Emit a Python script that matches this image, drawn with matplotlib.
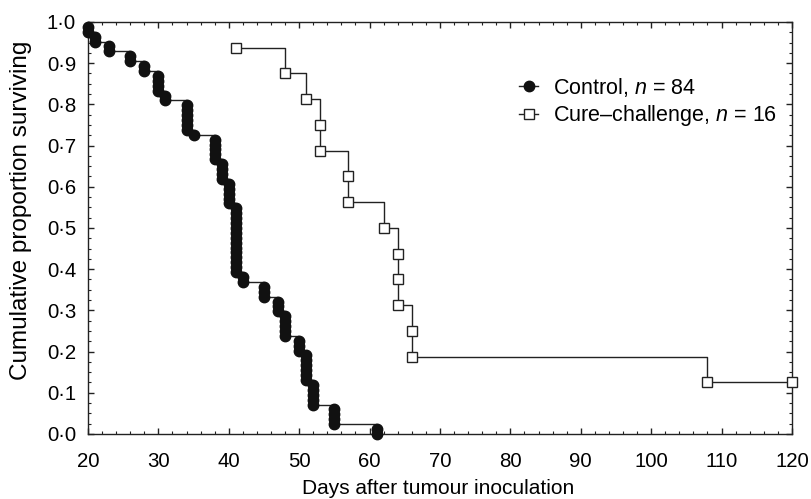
import matplotlib
matplotlib.use('Agg')
import matplotlib.pyplot as plt
from matplotlib.ticker import MultipleLocator, FuncFormatter

# Kaplan-Meier data: day of death and number of deaths that day
control_days = [20, 21, 23, 26, 28, 30, 31, 34, 35, 38, 39, 40, 41, 42, 45, 47, 48, 50, 51, 52, 55, 61]
control_deaths = [2, 2, 2, 2, 2, 4, 2, 6, 1, 5, 4, 5, 14, 2, 3, 3, 5, 3, 6, 5, 4, 2]
control_n = 84

cure_days = [41, 48, 51, 53, 57, 62, 64, 66, 108]
cure_deaths = [1, 1, 1, 2, 2, 1, 3, 2, 1]
cure_n = 16
cure_censor_day = 120  # two survivors still alive at end

plt.rcParams['font.family'] = ['Liberation Sans', 'DejaVu Sans']
plt.rcParams['mathtext.fontset'] = 'custom'
plt.rcParams['mathtext.rm'] = 'Liberation Sans'
plt.rcParams['mathtext.it'] = 'Liberation Sans:italic'


def km_points(days, deaths, n):
    # one point per death, survival after each death
    xs, ys = [], []
    at_risk = n
    surv = 1.0
    for d, k in zip(days, deaths):
        for _ in range(k):
            surv *= (at_risk - 1) / at_risk
            at_risk -= 1
            xs.append(d)
            ys.append(surv)
    return xs, ys


cx, cy = km_points(control_days, control_deaths, control_n)
qx, qy = km_points(cure_days, cure_deaths, cure_n)
qx.append(cure_censor_day)
qy.append(qy[-1])

fig = plt.figure(figsize=(8.11, 4.99), dpi=100)
ax = fig.add_axes([0.1085, 0.1303, 0.868, 0.8257])

ax.plot(cx, cy, drawstyle='steps-post', color='#222222', lw=1.0,
        marker='o', ms=7.5, mfc='#111111', mec='#111111',
        label=r'Control, $n$ = 84', clip_on=False, zorder=3)
ax.plot(qx, qy, drawstyle='steps-post', color='#222222', lw=1.0,
        marker='s', ms=7.5, mfc='white', mec='#222222', mew=1.0,
        label=r'Cure–challenge, $n$ = 16', clip_on=False, zorder=3)

ax.set_xlim(20, 120)
ax.set_ylim(0, 1.0)
ax.xaxis.set_major_locator(MultipleLocator(10))
ax.xaxis.set_minor_locator(MultipleLocator(2))
ax.yaxis.set_major_locator(MultipleLocator(0.1))
ax.yaxis.set_minor_locator(MultipleLocator(0.025))
ax.yaxis.set_major_formatter(FuncFormatter(lambda v, p: f'{v:.1f}'.replace('.', '·')))

ax.tick_params(which='both', direction='in', top=True, right=True, labelsize=14.7, color='#222222')
ax.tick_params(which='major', length=4.5, width=1.0)
ax.tick_params(which='minor', length=2.5, width=0.8)
ax.tick_params(axis='x', which='major', pad=13)
ax.tick_params(axis='y', which='major', pad=8.6)
for s in ax.spines.values():
    s.set_linewidth(1.0)
    s.set_color('#222222')

ax.set_xlabel('Days after tumour inoculation', fontsize=15, va='top')
ax.xaxis.set_label_coords(0.497, -0.109)
ax.set_ylabel('Cumulative proportion surviving', fontsize=17.5)
ax.yaxis.set_label_coords(-0.08, 0.542)

ax.legend(loc='upper left', bbox_to_anchor=(0.597, 0.896), frameon=False, fontsize=15.5,
          handlelength=0.9, handletextpad=0.7, labelspacing=0.21, borderpad=0)

fig.savefig('out.png', dpi=100)
